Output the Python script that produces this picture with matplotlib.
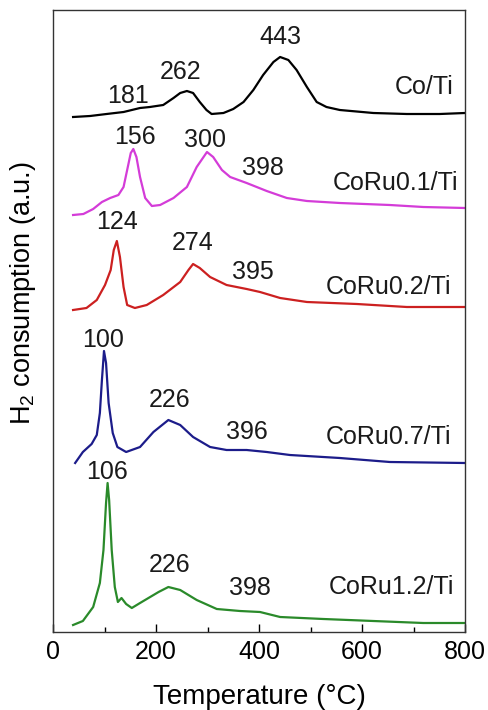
import matplotlib
matplotlib.use("Agg")
import matplotlib.pyplot as plt
from matplotlib.ticker import MultipleLocator

plt.rcParams['font.family'] = ['Liberation Sans', 'DejaVu Sans']
plt.rcParams['mathtext.fontset'] = 'custom'
plt.rcParams['mathtext.rm'] = 'Liberation Sans'
plt.rcParams['mathtext.it'] = 'Liberation Sans:italic'

# ---- data (temperature in °C, H2 signal in a.u., curves stacked with offsets) ----
co_T = [39, 72, 104, 137, 169, 188, 214, 234, 247, 260, 272, 285, 298, 308, 331, 350, 370, 389, 408, 428,
        441, 457, 473, 493, 512, 531, 557, 622, 687, 751, 800]
co_H = [515, 516, 518, 520, 524, 525, 527, 534, 539, 541, 539, 530, 522, 518, 519, 523, 530, 542, 557, 570,
        575, 572, 562, 545, 530, 525, 522, 519, 518, 518, 519]

r01_T = [39, 59, 78, 95, 111, 127, 137, 144, 151, 156, 162, 169, 179, 192, 208, 234, 260, 279, 299, 311,
         328, 344, 376, 415, 454, 493, 557, 654, 719, 800]
r01_H = [417, 418, 423, 430, 434, 437, 445, 462, 479, 483, 475, 455, 434, 426, 427, 434, 445, 465, 480, 475,
         462, 455, 449, 441, 434, 431, 429, 427, 425, 424]

r02_T = [39, 65, 85, 101, 112, 118, 124, 130, 137, 144, 159, 182, 214, 247, 263, 272, 285, 305, 337, 376,
         402, 441, 493, 590, 687, 800]
r02_H = [322, 324, 332, 347, 362, 382, 391, 375, 345, 327, 324, 327, 337, 350, 362, 368, 364, 355, 347, 343,
         340, 334, 330, 328, 325, 325]

r07_T = [43, 58, 75, 85, 91, 95, 99, 103, 108, 116, 125, 142, 169, 195, 224, 247, 272, 305, 337, 376,
         415, 460, 557, 654, 800]
r07_H = [169, 180, 188, 197, 219, 252, 281, 269, 229, 199, 185, 180, 185, 200, 212, 207, 195, 185, 182, 182,
         180, 177, 174, 170, 169]

r12_T = [39, 58, 78, 91, 98, 103, 106, 109, 114, 120, 126, 133, 142, 153, 169, 205, 224, 247, 279, 318,
         363, 402, 441, 525, 622, 719, 800]
r12_H = [7, 11, 25, 49, 82, 129, 149, 132, 82, 45, 30, 34, 28, 24, 29, 40, 45, 42, 32, 23,
         21, 20, 15, 13, 11, 9, 9]

names = ['Co/Ti', 'CoRu0.1/Ti', 'CoRu0.2/Ti', 'CoRu0.7/Ti', 'CoRu1.2/Ti']
colors = ['#000000', '#d43cd8', '#cc2020', '#1c1c8a', '#2a8a2a']

# peak annotations: (label, temperature position, height position)
peak_labels = [
    [('181', 146, 536), ('262', 247, 560), ('443', 441, 595)],
    [('156', 159, 495), ('300', 295, 492), ('398', 408, 464)],
    [('124', 124, 410), ('274', 272, 389), ('395', 388, 360)],
    [('100', 97, 292), ('226', 227, 232), ('396', 377, 200)],
    [('106', 105, 160), ('226', 227, 67), ('398', 382, 44)],
]
name_pos = [(778, 545), (786, 449), (773, 345), (773, 195), (778, 45)]

curves = [(co_T, co_H), (r01_T, r01_H), (r02_T, r02_H), (r07_T, r07_H), (r12_T, r12_H)]

fig = plt.figure(figsize=(4.88, 7.10), dpi=100)
ax = fig.add_axes([53/488, 1-632/710, 412/488, 622/710])

for (T, H), c in zip(curves, colors):
    ax.plot(T, H, color=c, lw=1.6, solid_joinstyle='round')

for labs in peak_labels:
    for s, t, h in labs:
        ax.text(t, h, s, ha='center', va='center', fontsize=18, color='#1a1a1a')

for n, (t, h) in zip(names, name_pos):
    ax.text(t, h, n, ha='right', va='center', fontsize=18, color='#1a1a1a')

ax.set_xlim(0, 800)
ax.set_ylim(0, 622)
ax.xaxis.set_major_locator(MultipleLocator(200))
ax.xaxis.set_minor_locator(MultipleLocator(100))
ax.set_yticks([])
ax.tick_params(axis='x', which='major', direction='in', length=6, width=1, labelsize=18, pad=6, top=False)
ax.tick_params(axis='x', which='minor', direction='in', length=3.5, width=1, top=False)
for sp in ax.spines.values():
    sp.set_linewidth(1.0)
    sp.set_color('#333333')

ax.set_xlabel('Temperature (°C)', fontsize=20, labelpad=14)
fig.text(23/488, 1-293/710, r'H$_2$ consumption (a.u.)', rotation=90, fontsize=19.5,
         ha='center', va='center')

fig.savefig('out.png', dpi=100)
